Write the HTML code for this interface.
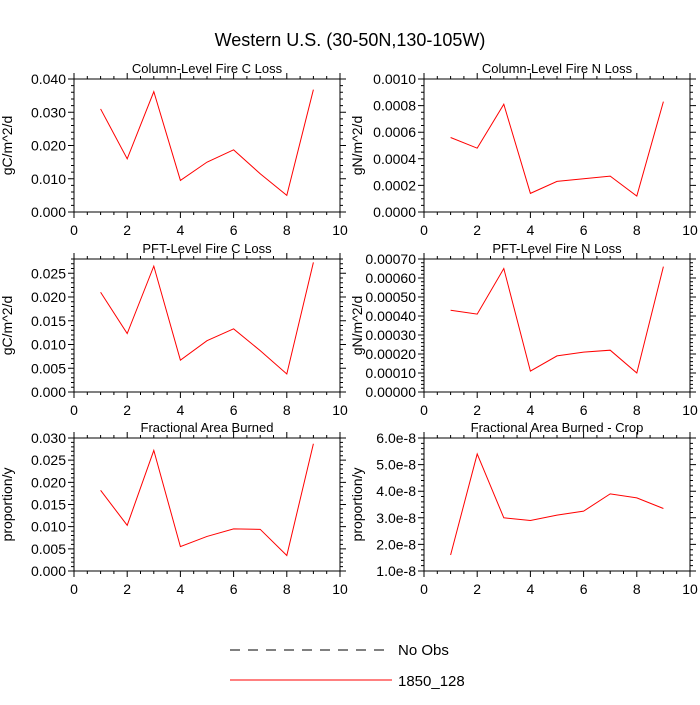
<!DOCTYPE html>
<html><head><meta charset="utf-8"><style>
body{margin:0;background:#fff;}
svg text{font-family:"Liberation Sans",sans-serif;fill:#000;}
</style></head><body>
<svg id="c" width="700" height="700" viewBox="0 0 700 700">
<text x="350" y="46" font-size="18" text-anchor="middle">Western U.S. (30-50N,130-105W)</text>
<g id="panels"></g>
<g>
<line x1="230" y1="650" x2="390" y2="650" stroke="#000" stroke-width="1" stroke-dasharray="10,8"/>
<text x="398" y="655" font-size="15">No Obs</text>
<line x1="230" y1="680" x2="392" y2="680" stroke="#f00" stroke-width="1"/>
<text x="398" y="686" font-size="15">1850_128</text>
</g>
</svg>
<script>
const xs=[1,2,3,4,5,6,7,8,9];
const xTicks=[0,2,4,6,8,10];
const colC=[0.031,0.016,0.0362,0.0095,0.015,0.0187,0.0115,0.005,0.0368];
const colN=[0.00056,0.00048,0.00081,0.00014,0.00023,0.00025,0.00027,0.00012,0.00083];
const pftC=[0.021,0.0123,0.0265,0.0067,0.0108,0.0133,0.0087,0.0038,0.0273];
const pftN=[0.00043,0.00041,0.00065,0.00011,0.00019,0.00021,0.00022,0.0001,0.00066];
const fab=[0.0182,0.0103,0.0272,0.0055,0.0078,0.0095,0.0094,0.0035,0.0287];
const fabCrop=[1.6e-8,5.4e-8,3.0e-8,2.9e-8,3.1e-8,3.25e-8,3.9e-8,3.75e-8,3.35e-8];
const colCTicks=["0.000","0.010","0.020","0.030","0.040"];
const colNTicks=["0.0000","0.0002","0.0004","0.0006","0.0008","0.0010"];
const pftCTicks=["0.000","0.005","0.010","0.015","0.020","0.025"];
const pftNTicks=["0.00000","0.00010","0.00020","0.00030","0.00040","0.00050","0.00060","0.00070"];
const fabTicks=["0.000","0.005","0.010","0.015","0.020","0.025","0.030"];
const fabCropTicks=["1.0e-8","2.0e-8","3.0e-8","4.0e-8","5.0e-8","6.0e-8"];
const panels=[
 {name:"column-c",title:"Column-Level Fire C Loss",yl:"gC/m^2/d",data:colC,ticks:colCTicks,ymin:0,ymax:0.04,step:0.01,minor:0.002,x:74,y:79},
 {name:"column-n",title:"Column-Level Fire N Loss",yl:"gN/m^2/d",data:colN,ticks:colNTicks,ymin:0,ymax:0.001,step:0.0002,minor:0.00005,x:424,y:79},
 {name:"pft-c",title:"PFT-Level Fire C Loss",yl:"gC/m^2/d",data:pftC,ticks:pftCTicks,ymin:0,ymax:0.028,step:0.005,minor:0.001,x:74,y:259},
 {name:"pft-n",title:"PFT-Level Fire N Loss",yl:"gN/m^2/d",data:pftN,ticks:pftNTicks,ymin:0,ymax:0.0007,step:0.0001,minor:0.00002,x:424,y:259},
 {name:"fab",title:"Fractional Area Burned",yl:"proportion/y",data:fab,ticks:fabTicks,ymin:0,ymax:0.03,step:0.005,minor:0.001,x:74,y:438},
 {name:"fab-crop",title:"Fractional Area Burned - Crop",yl:"proportion/y",data:fabCrop,ticks:fabCropTicks,ymin:1e-8,ymax:6e-8,step:1e-8,minor:2e-9,x:424,y:438}
];
const W=266,H=133,NS="http://www.w3.org/2000/svg";
const root=document.getElementById('panels');
function mk(t,a,p){const e=document.createElementNS(NS,t);for(const k in a)e.setAttribute(k,a[k]);(p||root).appendChild(e);return e;}
panels.forEach(p=>{
 const g=mk('g',{});
 
 
 const sx=v=>p.x+v/10*W, sy=v=>p.y+H-(v-p.ymin)/(p.ymax-p.ymin)*H;
 const fr=mk('rect',{x:p.x,y:p.y,width:W,height:H,fill:'none',stroke:'#000','stroke-width':1},g);
 
 
 let d='';
 for(let v=0;v<=10.001;v+=0.5){const X=sx(v),L=(Math.abs(v-Math.round(v/2)*2)<1e-6)?6:3;d+=`M${X},${p.y+H}v${L}M${X},${p.y}v${-L}`;}
 const nm=Math.round((p.ymax-p.ymin)/p.minor);
 for(let i=0;i<=nm;i++){const v=p.ymin+i*p.minor;const Y=sy(v);const r=Math.round((v-p.ymin)/p.step);const maj=Math.abs(v-p.ymin-r*p.step)<p.minor*0.1;const L=maj?6:3;d+=`M${p.x},${Y}h${-L}M${p.x+W},${Y}h${L}`;}
 const tk=mk('path',{d:d,stroke:'#000','stroke-width':1,fill:'none'},g);
 
 
 xTicks.forEach(v=>{const t=mk('text',{x:sx(v),y:p.y+H+23,'font-size':14,'text-anchor':'middle'},g);t.textContent=v;
  
  });
 p.ticks.forEach((s,i)=>{const t=mk('text',{x:p.x-8,y:sy(p.ymin+i*p.step)+5,'font-size':14,'text-anchor':'end'},g);t.textContent=s;
  
  });
 const ti=mk('text',{x:p.x+W/2,y:p.y-6,'font-size':13,'text-anchor':'middle'},g);ti.textContent=p.title;
 
 
 const yx=p.x-62,yy=p.y+H/2;
 const yl=mk('text',{x:yx,y:yy,'font-size':14,'text-anchor':'middle',transform:`rotate(-90 ${yx} ${yy})`},g);yl.textContent=p.yl;
 
 
 const pts=xs.map((x,i)=>sx(x)+','+sy(p.data[i])).join(' ');
 const ln=mk('polyline',{points:pts,fill:'none',stroke:'#f00','stroke-width':1},g);
 
 
});
</script>
</body></html>
